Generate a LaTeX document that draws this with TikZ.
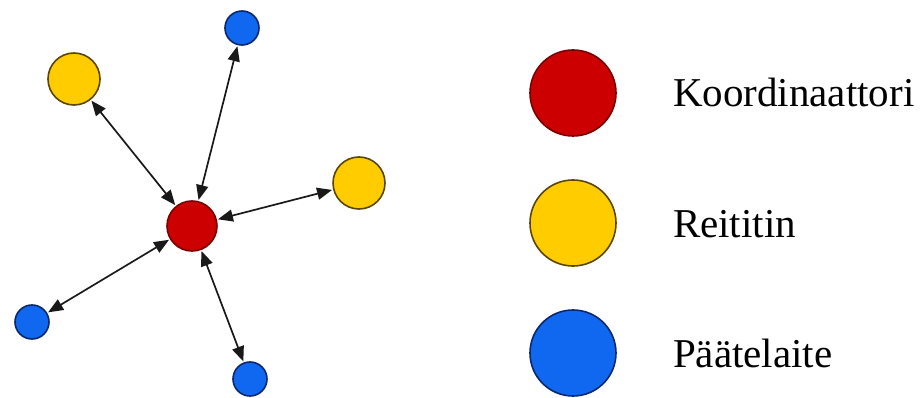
\documentclass[tikz,border=0pt]{standalone}
\usepackage{fontspec}
\setmainfont{Liberation Serif}
\usetikzlibrary{arrows.meta,positioning}
\definecolor{koordred}{RGB}{204,0,0}
\definecolor{koordedge}{RGB}{120,0,0}
\definecolor{reitityellow}{RGB}{255,204,0}
\definecolor{reitiedge}{RGB}{90,70,0}
\definecolor{laiteblue}{RGB}{17,104,240}
\definecolor{laiteedge}{RGB}{10,40,110}
\definecolor{linegray}{RGB}{25,25,25}

\begin{document}
\begin{tikzpicture}[x=1pt,y=-1pt,
    solmu/.style={circle, draw, line width=1.6pt, inner sep=0pt},
    koord/.style={solmu, fill=koordred, draw=koordedge},
    reititin/.style={solmu, fill=reitityellow, draw=reitiedge},
    paate/.style={solmu, fill=laiteblue, draw=laiteedge},
    yhteys/.style={{Triangle[length=15pt,width=12pt]}-{Triangle[length=15pt,width=12pt]}, line width=1.7pt, draw=linegray},
    selite/.style={font=\fontsize{41}{45}\selectfont, inner sep=0pt, text height=28pt, text depth=0pt, anchor=west}]
  \useasboundingbox (0,0) rectangle (921,398);

  % verkko
  \node[koord, minimum size=50pt] (koordinaattori) at (192,226) {};
  \node[reititin, minimum size=52pt] (reititin1) at (74,79) {};
  \node[reititin, minimum size=52pt] (reititin2) at (359,183) {};
  \node[paate, minimum size=34pt] (paate1) at (242,28) {};
  \node[paate, minimum size=34pt] (paate2) at (32,322) {};
  \node[paate, minimum size=34pt] (paate3) at (250,379) {};

  \foreach \kohde in {reititin1,reititin2,paate1,paate2,paate3}
    \draw[yhteys, shorten <=1pt, shorten >=1pt] (koordinaattori) -- (\kohde);

  % selitteet
  \node[koord, minimum size=86pt] (legkoord) at (573,93) {};
  \node[reititin, minimum size=86pt] (legreititin) at (573,223) {};
  \node[paate, minimum size=86pt] (legpaate) at (573,353) {};
  \node[selite, right=56pt of legkoord] (txtkoord) {Koordinaattori};
  \node[selite, right=56pt of legreititin] (txtreititin) {Reititin};
  \node[selite, right=56pt of legpaate] (txtpaate) {Päätelaite};
\end{tikzpicture}
\end{document}
